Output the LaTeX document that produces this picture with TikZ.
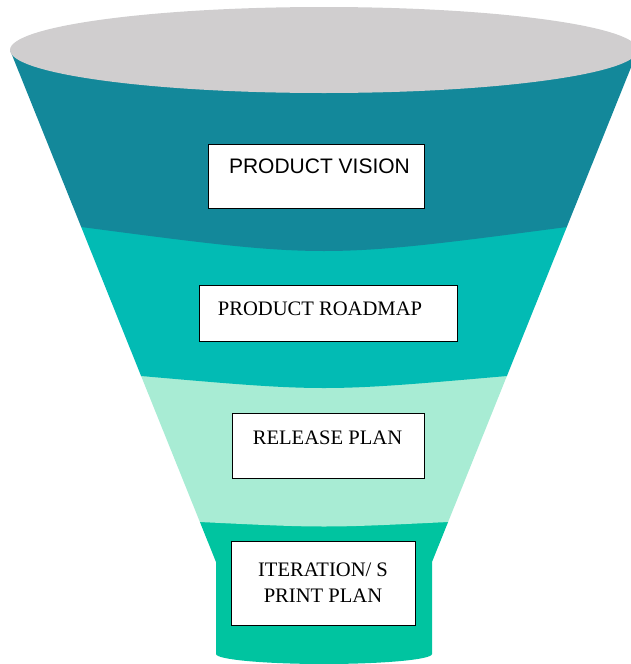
\documentclass[tikz,border=0pt]{standalone}
\usepackage{fontspec}
\setmainfont{Liberation Serif}
\newfontfamily\arialf{Liberation Sans}
\definecolor{bandA}{RGB}{19,136,154}
\definecolor{bandB}{RGB}{2,187,180}
\definecolor{bandC}{RGB}{168,236,212}
\definecolor{bandD}{RGB}{0,196,160}
\definecolor{rim}{RGB}{208,206,207}
\tikzset{
  box/.style={draw=black, line width=0.9pt, fill=white, inner sep=0pt},
  lbl/.style={inner sep=0pt, text=black, font=\fontsize{20.6}{26}\selectfont},
}
\begin{document}
\begin{tikzpicture}[x=1pt,y=-1pt]
\useasboundingbox (0,0) rectangle (630,664);
% bands, bottom first
\fill[bandD] (199.9,522) -- (216,562) -- (216,654)
  .. controls (216,659.5) and (264.4,664) .. (324,664)
  .. controls (383.6,664) and (432,659.5) .. (432,654)
  -- (432,562) -- (448.1,522) -- cycle;
\fill[bandC] (141.1,376) -- (199.9,522) .. controls (324,528) .. (448.1,522) -- (506.9,376) -- cycle;
\fill[bandB] (81.2,227) -- (141.1,376) .. controls (324,392) .. (506.9,376) -- (566.8,227) -- cycle;
\fill[bandA] (10,50) -- (81.2,227) .. controls (324,259) .. (566.8,227) -- (638,50) -- cycle;
\fill[rim] (324,50) ellipse [x radius=314pt, y radius=43pt];
% boxes
\node[box, minimum width=216pt, minimum height=64pt] (vision) at (316,176) {};
\node[box, minimum width=258pt, minimum height=56pt] (roadmap) at (328,313) {};
\node[box, minimum width=192pt, minimum height=65pt] (release) at (328,445.5) {};
\node[box, minimum width=184pt, minimum height=84pt] (iteration) at (323,583) {};
% labels
\node[lbl, font=\arialf\fontsize{21}{24}\selectfont, anchor=base] (visionT) at (319.5,173) {PRODUCT VISION};
\node[lbl, anchor=base] (roadmapT) at (320,315) {PRODUCT ROADMAP};
\node[lbl, anchor=base] (releaseT) at (327.5,444) {RELEASE PLAN};
\node[lbl, align=center, anchor=center] (iterationT) at (323,583) {ITERATION/ S\\PRINT PLAN};
\end{tikzpicture}
\end{document}
